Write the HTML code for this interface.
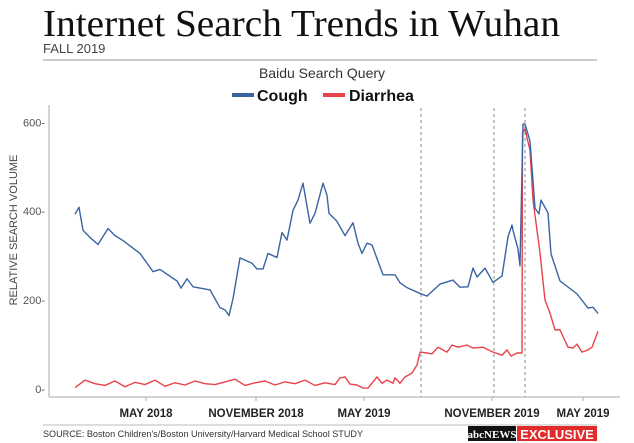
<!DOCTYPE html>
<html><head><meta charset="utf-8"><style>
body{margin:0;background:#fff;width:634px;height:443px;overflow:hidden}
svg{display:block;font-family:"Liberation Sans",sans-serif}
</style></head><body>
<svg width="634" height="443" viewBox="0 0 634 443">
<text x="43" y="36" font-family="Liberation Serif,serif" font-size="38" textLength="517" lengthAdjust="spacingAndGlyphs" fill="#111">Internet Search Trends in Wuhan</text>
<text x="43" y="53" font-size="13" fill="#444">FALL 2019</text>
<line x1="43" y1="60" x2="597" y2="60" stroke="#999" stroke-width="1"/>
<text x="322" y="78" font-size="14" fill="#333" text-anchor="middle">Baidu Search Query</text>
<g><line x1="232" y1="95" x2="254" y2="95" stroke="#3a64a0" stroke-width="4"/><text x="257" y="101" font-size="16" font-weight="bold" fill="#111">Cough</text></g>
<g><line x1="323" y1="95" x2="345" y2="95" stroke="#e8434a" stroke-width="4"/><text x="349" y="101" font-size="16" font-weight="bold" fill="#111">Diarrhea</text></g>
<text transform="translate(17,230) rotate(-90)" font-size="11" fill="#444" text-anchor="middle">RELATIVE SEARCH VOLUME</text>
<g id="axes"></g><g id="plot"></g>
<line x1="43" y1="425" x2="597" y2="425" stroke="#bbb"/>
<text x="43" y="437" font-size="9.5" fill="#333" textLength="320" lengthAdjust="spacingAndGlyphs">SOURCE: Boston Children's/Boston University/Harvard Medical School STUDY</text>
<g><rect x="468" y="426" width="48" height="15" fill="#111"/><text x="492" y="438" font-size="11" font-family="Liberation Serif,serif" fill="#fff" text-anchor="middle" font-weight="bold">abcNEWS</text></g>
<g><rect x="517" y="426" width="80" height="15" fill="#e22b2b"/><text x="557" y="439" font-size="13" font-weight="bold" fill="#fff" text-anchor="middle">EXCLUSIVE</text></g>
</svg>
<script>
// days since start of series
const coughDays=[0,4,8,15,23,33,40,48,65,78,85,102,106,112,118,135,145,150,154,158,165,177,182,188,193,202,207,212,218,223,228,235,240,248,252,254,262,270,278,283,287,292,297,308,320,325,332,345,352,365,378,385,393,398,402,410,418,427,433,437,438,443,445,448,450,455,460,464,466,473,476,485,502,513,518,523];
const coughVals=[393,409,357,341,325,361,345,334,305,264,269,243,227,248,230,223,183,178,165,203,295,283,270,270,305,296,352,335,402,425,463,373,395,463,436,395,377,345,374,328,305,328,324,257,257,239,228,215,209,236,245,229,230,272,252,272,240,254,342,369,357,315,277,596,596,558,407,394,425,396,304,243,214,182,184,170];
const diarDays=[0,10,20,30,40,50,60,70,80,90,100,110,120,130,140,150,160,170,180,190,200,210,220,230,240,250,260,265,270,275,282,288,293,302,307,312,318,320,325,330,337,342,345,352,357,363,372,377,383,392,398,408,418,427,432,436,442,447,447.5,450,455,458,465,470,475,480,485,493,498,502,507,513,517,523];
const diarVals=[3,20,12,8,18,5,15,10,20,6,14,9,18,12,10,16,22,8,14,18,9,16,12,20,8,14,10,25,27,11,9,2,2,27,13,20,13,25,13,27,36,54,83,81,79,94,83,99,94,99,92,94,83,76,88,74,81,81,576,585,537,425,306,200,171,133,133,94,92,101,83,88,94,130];
const yTicks=[0,200,400,600];
const xTickDays=[71,181,289,417,508];
const xTickLabels=["MAY 2018","NOVEMBER 2018","MAY 2019","NOVEMBER 2019","MAY 2019"];
const markerDays=[346,419,450];
</script>
<script>
const NS="http://www.w3.org/2000/svg";
const x=d=>75+d;
const y=v=>389-v*0.4445;
const axes=document.getElementById('axes'),plot=document.getElementById('plot');
function mk(tag,attrs,parent){const e=document.createElementNS(NS,tag);for(const k in attrs)e.setAttribute(k,attrs[k]);parent.appendChild(e);return e;}
let e=mk('line',{x1:49,y1:105,x2:49,y2:397,stroke:'#aaa'},axes);


e=mk('line',{x1:49,y1:397,x2:620,y2:397,stroke:'#aaa'},axes);


yTicks.forEach(v=>{
 const t=mk('text',{x:45,y:y(v)+4,'font-size':11,fill:'#555','text-anchor':'end'},axes);t.textContent=v+'-';
 
 
});
xTickDays.forEach((d,i)=>{
 const l=mk('line',{x1:x(d),y1:397,x2:x(d),y2:401,stroke:'#aaa'},axes);
 
 
 const t=mk('text',{x:x(d),y:417,'font-size':11.5,'font-weight':'bold',fill:'#222','text-anchor':'middle'},axes);t.textContent=xTickLabels[i];
 
 
});
markerDays.forEach(d=>{
 const l=mk('line',{x1:x(d),y1:108,x2:x(d),y2:397,stroke:'#888','stroke-dasharray':'3,3'},axes);
 
 
});
function line(days,vals,col,name){
 const p=mk('polyline',{points:days.map((d,i)=>x(d)+','+y(vals[i])).join(' '),fill:'none',stroke:col,'stroke-width':1.4,'stroke-linejoin':'round'},plot);
 
 
}
line(diarDays,diarVals,'#e8434a','diarrhea-line');
line(coughDays,coughVals,'#3a64a0','cough-line');
</script>
</body></html>
